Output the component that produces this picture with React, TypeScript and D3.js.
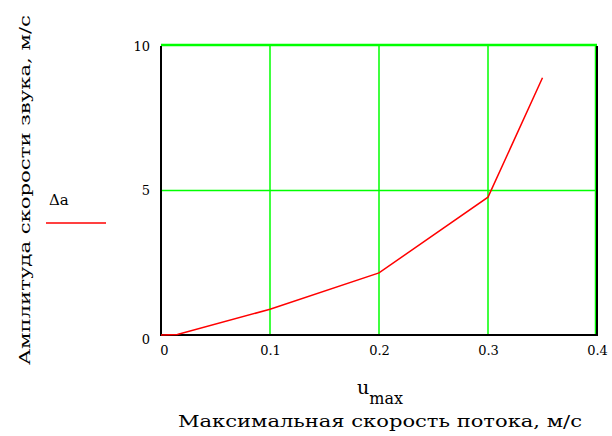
import { useEffect, useRef } from 'react'
import { select, scaleLinear, line, axisBottom, axisLeft } from 'd3'

const uMax = [0, 0.015, 0.1, 0.2, 0.3, 0.35]
const deltaA = [0, 0.02, 0.89, 2.15, 4.77, 8.9]
const xTicks = [0, 0.1, 0.2, 0.3, 0.4]
const yTicks = [0, 5, 10]

const W = 612
const H = 436
const m = { left: 161, right: 15, top: 46, bottom: 101 }
const font = '"DejaVu Serif", "Liberation Serif", serif'

export default function App() {
  const svgRef = useRef<SVGSVGElement | null>(null)

  useEffect(() => {
    const svg = select(svgRef.current)
    svg.selectAll('*').remove()

    const x = scaleLinear().domain([0, 0.4]).range([m.left, W - m.right])
    const y = scaleLinear().domain([0, 10]).range([H - m.bottom, m.top])

    const g = svg.append('g').style('font-family', font)

    // grid
    g.selectAll('.vgrid')
      .data(xTicks.filter((d) => d > 0))
      .join('line')
      .attr('x1', (d) => x(d) - (d === 0.4 ? 1.5 : 0))
      .attr('x2', (d) => x(d) - (d === 0.4 ? 1.5 : 0))
      .attr('y1', y(10))
      .attr('y2', y(0))
      .attr('stroke', '#00ff00')
      .attr('stroke-width', 1.5)
    g.selectAll('.hgrid')
      .data(yTicks.filter((d) => d > 0))
      .join('line')
      .attr('x1', x(0))
      .attr('x2', x(0.4))
      .attr('y1', (d) => y(d) - (d === 10 ? 1 : 0))
      .attr('y2', (d) => y(d) - (d === 10 ? 1 : 0))
      .attr('stroke', '#00ff00')
      .attr('stroke-width', (d) => (d === 10 ? 2.5 : 1.5))

    // frame
    g.append('path')
      .attr('d', `M${x(0)},${y(10)}V${y(0)}H${x(0.4)}V${y(10)}`)
      .attr('fill', 'none')
      .attr('stroke', '#000')
      .attr('stroke-width', 2)

    // tick labels
    const xAxis = axisBottom(x)
      .tickValues(xTicks)
      .tickSize(0)
      .tickPadding(11)
      .tickFormat((d) => String(d))
    const xa = g.append('g').attr('transform', `translate(0,${y(0)})`).call(xAxis as any)
    xa.select('.domain').remove()
    xa.selectAll('text').style('font-family', font).attr('font-size', 13).attr('fill', '#000')
    xa.selectAll('.tick')
      .filter((d: any) => d === 0)
      .select('text')
      .attr('dx', 3)

    const yAxis = axisLeft(y).tickValues(yTicks).tickSize(0).tickPadding(11)
    const ya = g.append('g').attr('transform', `translate(${x(0)},0)`).call(yAxis as any)
    ya.select('.domain').remove()
    ya.selectAll('text').style('font-family', font).attr('font-size', 13).attr('fill', '#000')
    ya.selectAll('.tick')
      .filter((d: any) => d === 0)
      .select('text')
      .attr('dy', 8)

    // data line
    const pts = uMax.map((u, i) => [u, deltaA[i]] as [number, number])
    const path = line<[number, number]>()
      .x((d) => x(d[0]))
      .y((d) => y(d[1]))
    g.append('path')
      .attr('d', path(pts))
      .attr('fill', 'none')
      .attr('stroke', '#ff0000')
      .attr('stroke-width', 1.5)

    // legend
    g.append('text')
      .attr('x', 49)
      .attr('y', 205)
      .attr('font-size', 15)
      .text('Δa')
    g.append('line')
      .attr('x1', 46)
      .attr('x2', 106)
      .attr('y1', 223)
      .attr('y2', 223)
      .attr('stroke', '#ff0000')
      .attr('stroke-width', 1.5)

    // axis titles
    g.append('text')
      .attr('transform', `translate(30,${(15 + 365) / 2}) rotate(-90)`)
      .attr('text-anchor', 'middle')
      .attr('font-size', 15)
      .attr('textLength', 350)
      .attr('lengthAdjust', 'spacingAndGlyphs')
      .text('Амплитуда скорости звука, м/с')

    const ut = g.append('text')
      .attr('x', 357)
      .attr('y', 394)
      .attr('font-size', 19)
    ut.append('tspan').text('u')
    ut.append('tspan').attr('dy', 10).attr('font-size', 16).text('max')

    g.append('text')
      .attr('x', (178 + 582) / 2)
      .attr('y', 427)
      .attr('text-anchor', 'middle')
      .attr('font-size', 17)
      .attr('textLength', 404)
      .attr('lengthAdjust', 'spacingAndGlyphs')
      .text('Максимальная скорость потока, м/с')
  }, [])

  return (
    <svg
      ref={svgRef}
      width={W}
      height={H}
      style={{ position: 'absolute', left: 0, top: 0, background: '#fff' }}
    />
  )
}
